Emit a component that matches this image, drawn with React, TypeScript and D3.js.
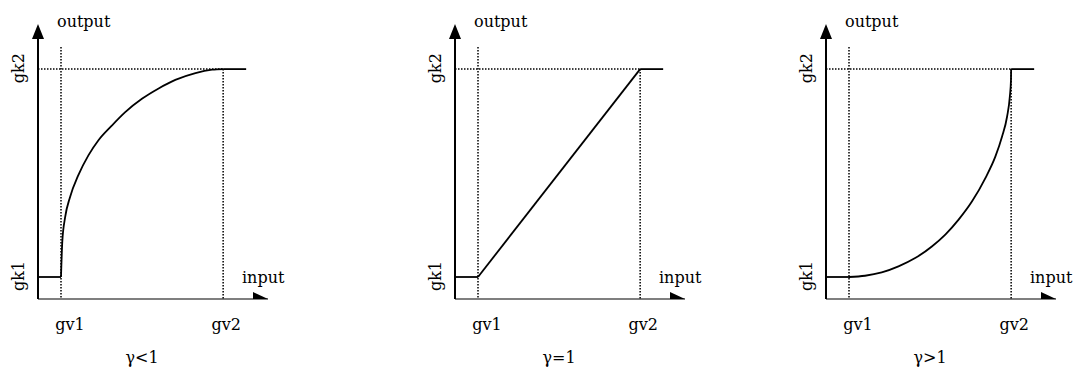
import React from "react";
import * as d3 from "d3";

// three gamma panels, values are normalised (0..1 along each axis)
const panelTitles = ["γ<1", "γ=1", "γ>1"];
const panelOffsets = [38, 455, 826];

const gv1 = 0.1;
const gv2 = 0.805;
const inputEnd = 0.905;
const gk1 = 0.08;
const gk2 = 0.836;
const guideTop = 0.916;

// curve shapes: t = position between gv1..gv2, v = between gk1..gk2
const lowGammaT = [0, 0.008, 0.025, 0.056, 0.107, 0.169, 0.231, 0.313, 0.396, 0.499, 0.602, 0.705, 0.829, 0.932, 1];
const lowGammaV = [0, 0.17, 0.285, 0.385, 0.49, 0.585, 0.658, 0.728, 0.793, 0.857, 0.907, 0.948, 0.981, 0.997, 1];
const unitGammaT = [0, 1];
const unitGammaV = [0, 1];
const highGammaT = [0, 0.099, 0.202, 0.305, 0.408, 0.511, 0.594, 0.676, 0.759, 0.841, 0.903, 0.944, 0.975, 0.992, 0.999, 1];
const highGammaV = [0, 0.006, 0.022, 0.051, 0.091, 0.147, 0.204, 0.276, 0.364, 0.476, 0.58, 0.676, 0.772, 0.869, 0.949, 1];

const curves = [
  [lowGammaT, lowGammaV],
  [unitGammaT, unitGammaV],
  [highGammaT, highGammaV],
];

const FONT = "'DejaVu Serif', serif";

const x = d3.scaleLinear().domain([0, 1]).range([0, 230]);
const y = d3.scaleLinear().domain([0, 1]).range([299, 24]);

const Panel = ({ idx }: { idx: number }) => {
  const [ts, vs] = curves[idx];
  const pts: [number, number][] = ts.map((t, i) => [gv1 + t * (gv2 - gv1), gk1 + vs[i] * (gk2 - gk1)]);

  const curve = d3
    .line<[number, number]>()
    .x((d) => x(d[0]))
    .y((d) => y(d[1]))
    .curve(d3.curveMonotoneX);
  const flat = d3
    .line<[number, number]>()
    .x((d) => x(d[0]))
    .y((d) => y(d[1]));

  const x0 = x(0);
  const y0 = y(0);
  const xEnd = x(1);
  const dots = { stroke: "#000", strokeWidth: 1.5, strokeDasharray: "1.5,1.5", fill: "none" };

  return (
    <g transform={`translate(${panelOffsets[idx]},0)`}>
      {/* guides */}
      <line x1={x(gv1)} x2={x(gv1)} y1={y(guideTop)} y2={y0} style={dots} />
      <line x1={x(gv2)} x2={x(gv2)} y1={y(gk2)} y2={y0} style={dots} />
      <line x1={x0} x2={x(gv2)} y1={y(gk2)} y2={y(gk2)} style={dots} />

      {/* axes */}
      <line x1={x0} x2={x0} y1={y0} y2={y(1) + 15} stroke="#000" strokeWidth={2} />
      <path d={`M${x0 - 6},${y(1) + 15}L${x0 + 6},${y(1) + 15}L${x0},${y(1)}Z`} fill="#000" />
      <line x1={x0} x2={xEnd} y1={y0} y2={y0} stroke="#000" strokeWidth={1.2} />
      <path d={`M${xEnd - 15},${y0 - 7}L${xEnd},${y0}L${xEnd - 15},${y0}Z`} fill="#000" />

      {/* transfer curve */}
      <g fill="none" stroke="#000" strokeWidth={1.8} strokeLinejoin="round">
        <path d={flat([[0, gk1], [gv1, gk1]]) ?? ""} />
        <path d={curve(pts) ?? ""} />
        <path d={flat([[gv2, gk2], [inputEnd, gk2]]) ?? ""} />
      </g>

      {/* labels */}
      <g fontFamily={FONT} fontSize={16} fill="#000">
        <text x={x0 + 19} y={27}>output</text>
        <text x={xEnd - 26} y={283}>input</text>
        <text x={x(gv1) + 9} y={330} textAnchor="middle">gv1</text>
        <text x={x(gv2) + 3} y={330} textAnchor="middle">gv2</text>
        <text transform={`translate(${x0 - 14},${y(gk2) - 1}) rotate(-90)`} textAnchor="middle">gk2</text>
        <text transform={`translate(${x0 - 14},${y(gk1) - 1}) rotate(-90)`} textAnchor="middle">gk1</text>
        <text x={x((gv1 + gv2) / 2)} y={363} textAnchor="middle">{panelTitles[idx]}</text>
      </g>
    </g>
  );
};

export default function App() {
  return (
    <svg
      width={1086}
      height={370}
      style={{ position: "absolute", left: 0, top: 0, background: "#fff" }}
    >
      {panelTitles.map((_, i) => (
        <Panel key={i} idx={i} />
      ))}
    </svg>
  );
}
